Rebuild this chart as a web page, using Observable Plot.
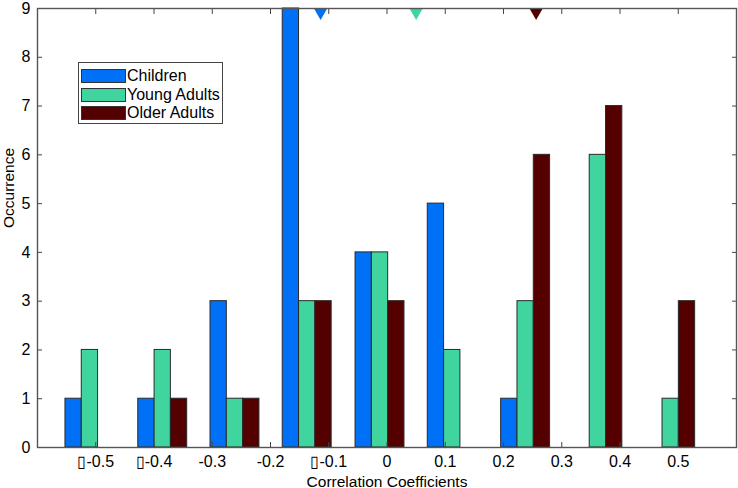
<!DOCTYPE html>
<html>
<head>
<meta charset="utf-8">
<script src="https://cdn.jsdelivr.net/npm/d3@7"></script>
<script src="https://cdn.jsdelivr.net/npm/@observablehq/plot@0.6"></script>
<style>
  html, body { margin: 0; padding: 0; background: #fff; }
  #wrap { position: relative; width: 738px; height: 488px; font-family: "Liberation Sans", Arial, Helvetica, sans-serif; }
  #legend { position: absolute; left: 78px; top: 62px; width: 145px; height: 62px; border: 1px solid #444; background: #fff; box-sizing: border-box; padding-top: 4px; }
  .row { display: flex; align-items: center; height: 18.5px; font-size: 16px; color: #000; }
  .sw { width: 45px; height: 14px; border: 1px solid #333; margin-left: 2px; margin-right: 1px; box-sizing: border-box; }
</style>
</head>
<body>
<div id="wrap"></div>
<script>
const binCenters = [-0.51, -0.385, -0.261, -0.137, -0.012, 0.112, 0.238, 0.362, 0.487];
const children = [1, 1, 3, 9, 4, 5, 1, 0, 0];
const youngAdults = [2, 2, 1, 3, 4, 2, 3, 6, 1];
const olderAdults = [0, 1, 1, 3, 3, 0, 6, 7, 3];
const seriesNames = ["Children", "Young Adults", "Older Adults"];
const seriesColors = ["#0070f6", "#40d49e", "#550000"];
const meanValues = [-0.114, 0.050, 0.256];
const xTicks = [-0.5, -0.4, -0.3, -0.2, -0.1, 0, 0.1, 0.2, 0.3, 0.4, 0.5];
const xTickLabels = ["\u25AF-0.5", "\u25AF-0.4", "-0.3", "-0.2", "\u25AF-0.1", "0", "0.1", "0.2", "0.3", "0.4", "0.5"];
const yTicks = [0, 1, 2, 3, 4, 5, 6, 7, 8, 9];

const barWidth = 0.028;
const seriesValues = [children, youngAdults, olderAdults];
const rows = [];
seriesValues.forEach((vals, s) => {
  vals.forEach((v, i) => rows.push({series: seriesNames[s], s, center: binCenters[i], count: v}));
});
const bars = rows.filter(d => d.count > 0);
const means = meanValues.map((m, s) => ({series: seriesNames[s], mean: m}));

const color = {domain: seriesNames, range: seriesColors};
const tickFont = 16;

const chart = Plot.plot({
  width: 738,
  height: 488,
  marginLeft: 37,
  marginRight: 2,
  marginTop: 8,
  marginBottom: 41,
  style: {fontFamily: '"Liberation Sans", Arial, Helvetica, sans-serif', fontSize: tickFont + "px", background: "#fff", color: "#000"},
  x: {domain: [-0.6, 0.6]},
  y: {domain: [0, 9]},
  color,
  marks: [
    Plot.rect(bars, {
      x1: d => d.center + (d.s - 1) * barWidth - barWidth / 2,
      x2: d => d.center + (d.s - 1) * barWidth + barWidth / 2,
      y1: 0,
      y2: "count",
      fill: "series",
      stroke: "#2a2a2a",
      strokeWidth: 1
    }),
    Plot.dot(means, {x: "mean", y: 9, dy: 4, symbol: "triangle", rotate: 180, r: 4.8, fill: "series", stroke: "none"}),
    // tick labels
    Plot.axisX(xTicks, {anchor: "bottom", tickSize: 0, tickPadding: 8, tickFormat: (d, i) => xTickLabels[i], fontSize: tickFont, label: null}),
    Plot.axisY(yTicks, {anchor: "left", tickSize: 0, tickPadding: 7, fontSize: tickFont, label: null}),
    // inward ticks
    Plot.axisX(xTicks, {anchor: "bottom", tickSize: -5, tickFormat: () => "", stroke: "#444", label: null}),
    Plot.axisX(xTicks, {anchor: "top", tickSize: -5, tickFormat: () => "", stroke: "#444", label: null}),
    Plot.axisY(yTicks, {anchor: "left", tickSize: -5, tickFormat: () => "", stroke: "#444", label: null}),
    Plot.axisY(yTicks, {anchor: "right", tickSize: -5, tickFormat: () => "", stroke: "#444", label: null}),
    Plot.frame({stroke: "#555", strokeWidth: 1.4}),
    // axis titles
    Plot.text(["Correlation Coefficients"], {frameAnchor: "bottom", lineAnchor: "bottom", dy: 39, text: d => d, fontSize: 15.5, fill: "#000"}),
    Plot.text(["Occurrence"], {frameAnchor: "left", dx: -28, rotate: -90, text: d => d, fontSize: 15.5, fill: "#000"})
  ]
});

const wrap = document.getElementById("wrap");
wrap.appendChild(chart);

const legend = document.createElement("div");
legend.id = "legend";
seriesNames.forEach((name, i) => {
  const row = document.createElement("div");
  row.className = "row";
  const sw = document.createElement("div");
  sw.className = "sw";
  sw.style.background = seriesColors[i];
  const label = document.createElement("span");
  label.textContent = name;
  row.appendChild(sw);
  row.appendChild(label);
  legend.appendChild(row);
});
wrap.appendChild(legend);
</script>
</body>
</html>
